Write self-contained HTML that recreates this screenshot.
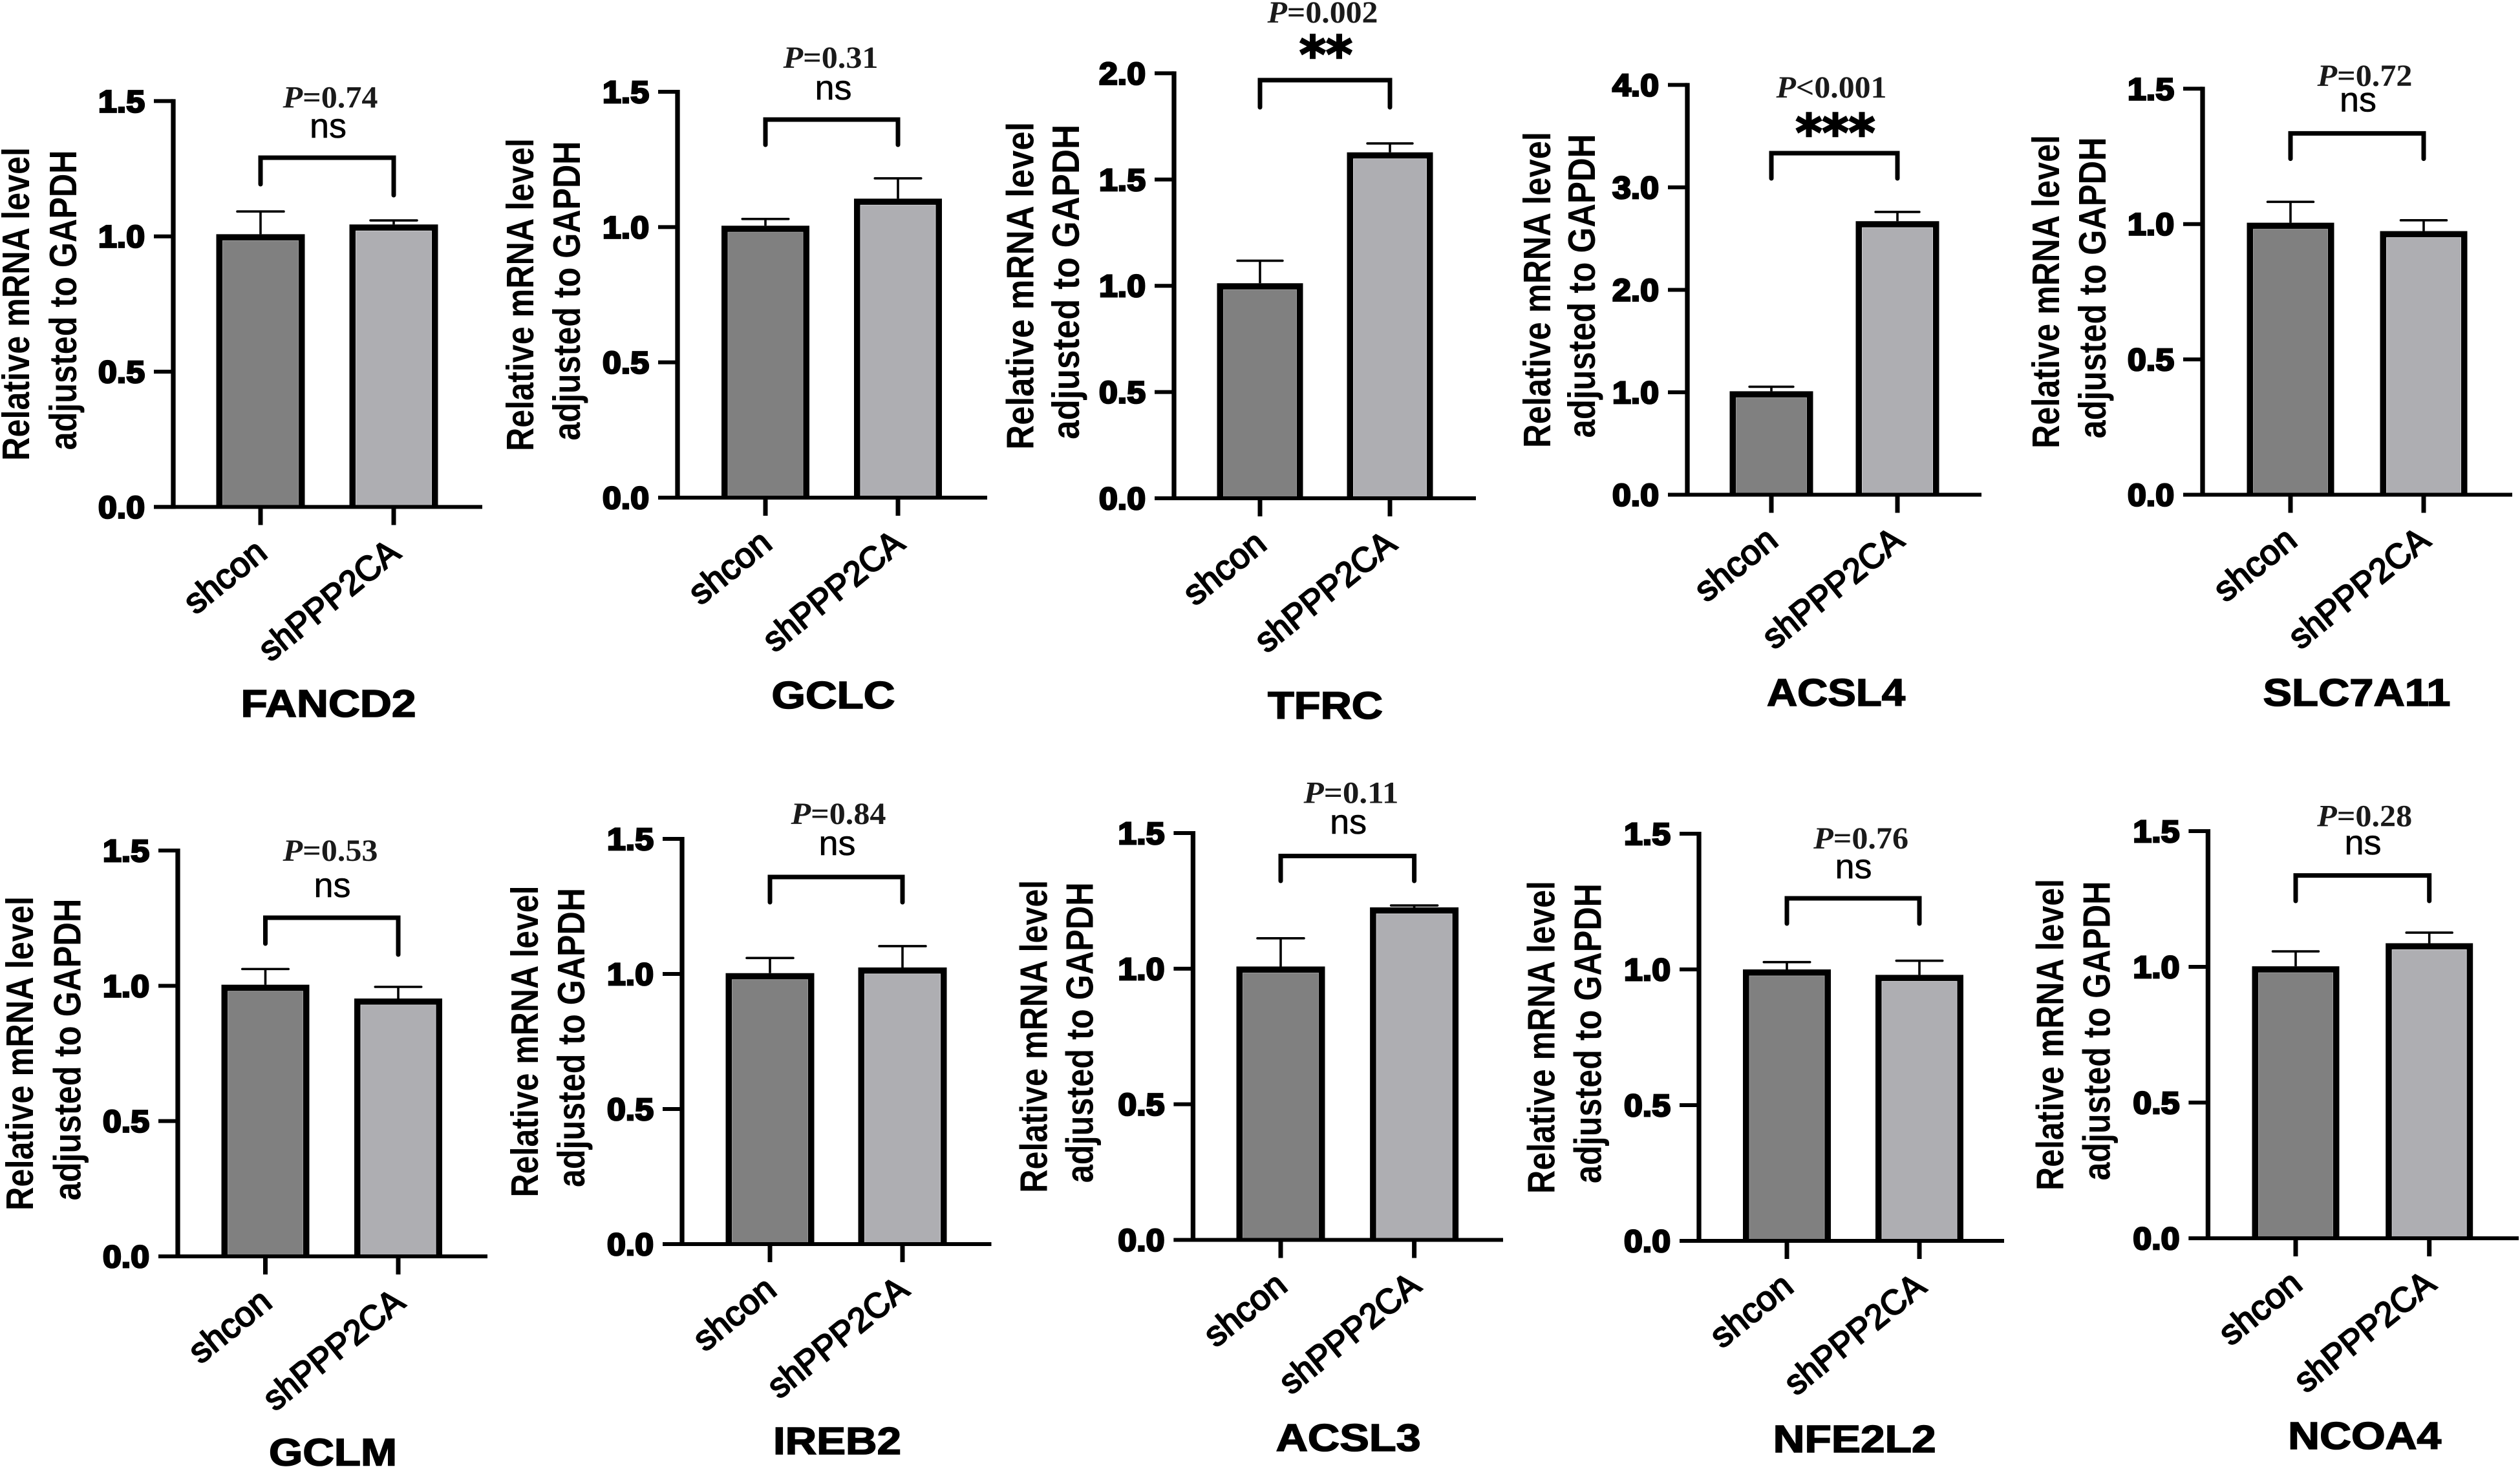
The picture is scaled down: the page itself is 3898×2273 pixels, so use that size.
<!DOCTYPE html>
<html lang="en">
<head>
<meta charset="utf-8">
<title>Relative mRNA levels after PPP2CA knockdown</title>
<style>
html,body{margin:0;padding:0;background:#fff;}
svg{display:block;}
text{fill:#000;}
</style>
</head>
<body>
<svg id="figure" xmlns="http://www.w3.org/2000/svg" width="3898" height="2273" viewBox="0 0 3898 2273"></svg>
<script>
// ---- chart data ----
const genes = ['FANCD2','GCLC','TFRC','ACSL4','SLC7A11','GCLM','IREB2','ACSL3','NFE2L2','NCOA4'];
const groupLabels = ['shcon','shPPP2CA'];
const shconValues = [1.008,1.005,1.012,1.01,1.005,1.004,1.003,1.008,1.0,1.002];
const shPPP2CAValues = [1.044,1.105,1.628,2.67,0.974,0.953,1.024,1.226,0.98,1.087];
const shconErrors = [0.084,0.025,0.106,0.044,0.077,0.058,0.056,0.104,0.027,0.055];
const shPPP2CAErrors = [0.015,0.075,0.042,0.09,0.04,0.043,0.079,0.007,0.052,0.039];
const yMaxValues = [1.5,1.5,2,4,1.5,1.5,1.5,1.5,1.5,1.5];
const yTicksDefault = [0,0.5,1,1.5];
const yTicksTFRC = [0,0.5,1,1.5,2];
const yTicksACSL4 = [0,1,2,3,4];
const yTickSets = [yTicksDefault,yTicksDefault,yTicksTFRC,yTicksACSL4,yTicksDefault,yTicksDefault,yTicksDefault,yTicksDefault,yTicksDefault,yTicksDefault];
const pRelations = ['=','=','=','<','=','=','=','=','=','='];
const pNumbers = ['0.74','0.31','0.002','0.001','0.72','0.53','0.84','0.11','0.76','0.28'];
const sigLabels = ['ns','ns','**','***','ns','ns','ns','ns','ns','ns'];
const yTitleLines = ['Relative mRNA level','adjusted to GAPDH'];

// ---- page layout of each panel (frame geometry, not data) ----
const frames = [
 {ax:268, y0:784.4,top:156.4,end:746, c1:403, c2:609, bw:137,br:244, brL:285, brR:302, pX:511, pY:166.5,sX:507.5,sY:213, tX:508, tY:1109,tW:271,l1:45, l2:118, n1:485,n2:464},
 {ax:1048,y0:770, top:142, end:1527,c1:1184,c2:1389,bw:136,br:185, brL:224, brR:224, pX:1285,pY:105, sX:1289,sY:154, tX:1289,tY:1096,tW:191,l1:825, l2:897, n1:484,n2:463},
 {ax:1816,y0:771, top:113.4,end:2283,c1:1949,c2:2150,bw:133,br:124, brL:166, brR:166, pX:2046,pY:35, sX:2051,sY:112, tX:2050,tY:1112,tW:178,l1:1598.5,l2:1669,n1:507,n2:487},
 {ax:2610,y0:765.5,top:131.4,end:3065,c1:2740,c2:2935,bw:129,br:237, brL:276, brR:276, pX:2833,pY:151, sX:2839,sY:233, tX:2840,tY:1092,tW:214,l1:2398,l2:2467,n1:489,n2:470},
 {ax:3407,y0:765.5,top:137.3,end:3886,c1:3543,c2:3749,bw:135,br:206.4,brL:245.6,brR:245.6,pX:3658,pY:133,sX:3647.5,sY:172.6,tX:3645.5,tY:1092,tW:290,l1:3185,l2:3257,n1:485,n2:466},
 {ax:275, y0:1944,top:1316,end:754, c1:410.5,c2:616,bw:136,br:1420,brL:1460,brR:1477,pX:511, pY:1332,sX:514, sY:1388,tX:515, tY:2267.5,tW:198,l1:51, l2:124.6,n1:486,n2:467},
 {ax:1055,y0:1925,top:1298,end:1533.5,c1:1191,c2:1396,bw:137,br:1357,brL:1396,brR:1396,pX:1297,pY:1275,sX:1295,sY:1323,tX:1295,tY:2250,tW:198,l1:832, l2:904, n1:482,n2:463},
 {ax:1845.4,y0:1918.5,top:1289,end:2325,c1:1981,c2:2187.6,bw:137,br:1324.5,brL:1363,brR:1363,pX:2090,pY:1242.4,sX:2085.6,sY:1290,tX:2085.6,tY:2245,tW:224,l1:1619.6,l2:1690.7,n1:484,n2:465},
 {ax:2628,y0:1920,top:1290,end:3100,c1:2764,c2:2969,bw:136,br:1390,brL:1429,brR:1429,pX:2878.6,pY:1313,sX:2867,sY:1359,tX:2868.6,tY:2247,tW:252,l1:2404.6,l2:2476.7,n1:484,n2:464},
 {ax:3415.4,y0:1916,top:1286,end:3896,c1:3551,c2:3757.7,bw:135,br:1354.6,brL:1394,brR:1394,pX:3657.7,pY:1278.7,sX:3655,sY:1322,tX:3657.7,tY:2242,tW:237,l1:3191.6,l2:3263.7,n1:482,n2:463}
];

const SVGNS = 'http://www.w3.org/2000/svg';
const SANS = '"Liberation Sans", sans-serif';
const SERIF = '"Liberation Serif", serif';
const root = document.getElementById('figure');

function add(parent, tag, attrs, txt) {
  const node = document.createElementNS(SVGNS, tag);
  for (const k in attrs) node.setAttribute(k, attrs[k]);
  if (txt !== undefined) node.textContent = txt;
  parent.appendChild(node);
  return node;
}

function drawPanel(i) {
  const f = frames[i];
  const yMax = yMaxValues[i];
  const slug = genes[i].toLowerCase();
  const yScale = v => f.y0 - (v / yMax) * (f.y0 - f.top);

  const g = add(root, 'g', {});
  
  

  // y-axis title, two lines
  const mid = (f.y0 + f.top) / 2;
  const t1 = add(g, 'text', {x:0, y:0, transform:`translate(${f.l1} ${mid}) rotate(-90)`, 'text-anchor':'middle',
    'font-family':SANS, 'font-weight':'bold', 'font-size':59, textLength:f.n1, lengthAdjust:'spacingAndGlyphs'}, yTitleLines[0]);
  
  
  const t2 = add(g, 'text', {x:0, y:0, transform:`translate(${f.l2} ${mid - 6}) rotate(-90)`, 'text-anchor':'middle',
    'font-family':SANS, 'font-weight':'bold', 'font-size':59, textLength:f.n2, lengthAdjust:'spacingAndGlyphs'}, yTitleLines[1]);
  
  

  // bars with error whiskers
  const centers = [f.c1, f.c2];
  const values = [shconValues[i], shPPP2CAValues[i]];
  const errors = [shconErrors[i], shPPP2CAErrors[i]];
  const fills = ['#808080', '#aeaeb2'];
  const edges = ['#9c9c9c', '#cfcfd2'];
  const border = 10;
  const capW = f.bw * 0.525;
  for (let b = 0; b < 2; b++) {
    const yTop = yScale(values[b]);
    const yErr = yScale(values[b] + errors[b]);
    const stem = add(g, 'line', {x1:centers[b], x2:centers[b], y1:yErr, y2:yTop, stroke:'#000', 'stroke-width':3.6});
    
    
    const cap = add(g, 'line', {x1:centers[b] - capW / 2, x2:centers[b] + capW / 2, y1:yErr, y2:yErr, stroke:'#000', 'stroke-width':3.6, 'stroke-linecap':'round'});
    
    
    const outer = add(g, 'rect', {x:centers[b] - f.bw / 2, y:yTop, width:f.bw, height:f.y0 - yTop, fill:'#000'});
    
    
    const inner = add(g, 'rect', {x:centers[b] - f.bw / 2 + border, y:yTop + border, width:f.bw - 2 * border, height:Math.max(0, f.y0 - yTop - border), fill:fills[b], stroke:edges[b], 'stroke-width':1});
    
    
  }

  // axes
  const yAxis = add(g, 'line', {x1:f.ax, x2:f.ax, y1:f.top - 3, y2:f.y0 + 3, stroke:'#000', 'stroke-width':7.3});
  
  
  const xAxis = add(g, 'line', {x1:f.ax - 30, x2:f.end, y1:f.y0, y2:f.y0, stroke:'#000', 'stroke-width':6});
  
  

  // y ticks
  yTickSets[i].forEach(v => {
    const y = yScale(v);
    const tick = add(g, 'line', {x1:f.ax - 30, x2:f.ax, y1:y, y2:y, stroke:'#000', 'stroke-width':6});
    
    
    const lab = add(g, 'text', {x:f.ax - 44, y:y + 17, 'text-anchor':'end', 'font-family':SANS, 'font-weight':'bold', 'font-size':48,
      stroke:'#000', 'stroke-width':2.8, textLength:72, lengthAdjust:'spacingAndGlyphs'}, v.toFixed(1));
    
    
  });

  // x ticks and rotated group labels
  const labLens = [146, 262];
  for (let b = 0; b < 2; b++) {
    const tick = add(g, 'line', {x1:centers[b], x2:centers[b], y1:f.y0, y2:f.y0 + 28, stroke:'#000', 'stroke-width':7});
    
    
    const lab = add(g, 'text', {x:0, y:0, transform:`translate(${centers[b] + 13} ${f.y0 + 76}) rotate(-39)`, 'text-anchor':'end',
      'font-family':SANS, 'font-size':54, stroke:'#000', 'stroke-width':2.2, textLength:labLens[b], lengthAdjust:'spacingAndGlyphs'}, groupLabels[b]);
    
    
  }

  // significance bracket
  const bracket = add(g, 'path', {d:`M${f.c1} ${f.brL} V${f.br} H${f.c2} V${f.brR}`, fill:'none', stroke:'#000', 'stroke-width':7, 'stroke-linecap':'round', 'stroke-linejoin':'miter'});
  
  

  // P value
  const pText = add(g, 'text', {x:f.pX, y:f.pY, 'text-anchor':'middle', 'font-family':SERIF, 'font-weight':'bold', 'font-size':48,
    fill:'#1a1a1a', textLength:pNumbers[i].length > 4 ? 171 : 147, lengthAdjust:'spacingAndGlyphs'});
  
  
  add(pText, 'tspan', {'font-style':'italic', fill:'#1a1a1a'}, 'P');
  add(pText, 'tspan', {fill:'#1a1a1a'}, pRelations[i] + pNumbers[i]);

  // ns / stars
  const sig = sigLabels[i];
  if (sig === 'ns') {
    const s = add(g, 'text', {x:f.sX, y:f.sY, 'text-anchor':'middle', 'font-family':SANS, 'font-size':54, stroke:'#000', 'stroke-width':0.6}, sig);
    
    
  } else {
    const s = add(g, 'text', {x:f.sX, y:f.sY, 'text-anchor':'middle', 'font-family':'"DejaVu Sans", sans-serif', 'font-weight':'bold', 'font-size':78,
      stroke:'#000', 'stroke-width':2.5, textLength:sig.length * 41, lengthAdjust:'spacingAndGlyphs'}, sig);
    
    
  }

  // gene title
  const title = add(g, 'text', {x:f.tX, y:f.tY, 'text-anchor':'middle', 'font-family':SANS, 'font-weight':'bold', 'font-size':59,
    stroke:'#000', 'stroke-width':1.6, textLength:f.tW, lengthAdjust:'spacingAndGlyphs'}, genes[i]);
  
  
}

genes.forEach((_, i) => drawPanel(i));
</script>
</body>
</html>
